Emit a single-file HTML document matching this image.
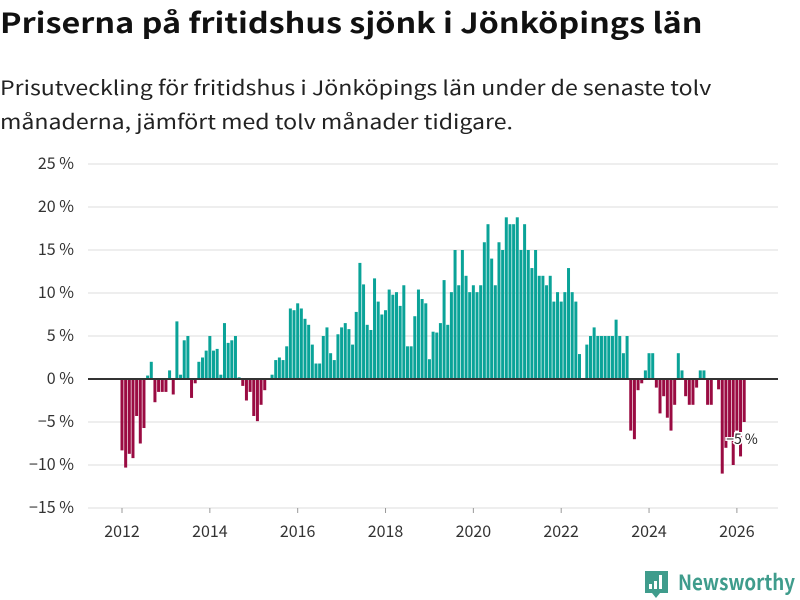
<!DOCTYPE html>
<html><head><meta charset="utf-8">
<style>
body{margin:0;width:800px;height:600px;background:#fff;font-family:"Noto Sans CJK SC","Liberation Sans",sans-serif;overflow:hidden;position:relative}
#title{position:absolute;left:0;top:2px;font-size:28px;font-weight:bold;color:#111;margin:0;white-space:nowrap;transform:scaleX(1.155);transform-origin:0 0}
#sub{position:absolute;left:0;top:70px;font-size:20px;line-height:34px;color:#222;width:700px;white-space:nowrap;transform:scaleX(1.155);transform-origin:0 0}
svg{position:absolute;left:0;top:0;font-family:"Noto Sans CJK SC","Liberation Sans",sans-serif}
</style></head><body>
<h1 id="title">Priserna på fritidshus sjönk i Jönköpings län</h1>
<div id="sub">Prisutveckling för fritidshus i Jönköpings län under de senaste tolv<br>månaderna, jämfört med tolv månader tidigare.</div>
<svg id="chart" width="800" height="600"></svg>
<script>
const yTicks=[25,20,15,10,5,0,-5,-10,-15];
const yearLabels=[2012,2014,2016,2018,2020,2022,2024,2026];
const startYear=2012;
const values=[
-8.3,-10.3,-8.7,-9.2,-4.3,-7.5,-5.7,0.4,2,-2.7,-1.5,-1.5,
-1.5,1,-1.8,6.7,0.5,4.5,5,-2.2,-0.5,2,2.5,3.3,
5,3.3,3.5,0.5,6.5,4.2,4.5,5,0.2,-0.8,-2.5,-1.5,
-4.3,-4.9,-3,-1.3,0,0.5,2.2,2.5,2.2,3.8,8.2,8,
8.8,8.2,7,6.3,4,1.8,1.8,5,6,3,2.2,5.2,
6,6.5,5.8,4,7.8,13.5,11,6.3,5.7,11.7,9,7.5,
8,10.4,9.8,10.1,8.5,10.9,3.8,3.8,7.3,10.4,9.3,8.8,
2.3,5.5,5.4,6.5,11.5,6.3,10.1,15,10.9,15,12,10.1,
10.9,10.1,10.9,15.9,18,14,10.9,15.9,15,18.8,18,18,
18.8,15,18,15,12.9,15,12,12,10.9,12,9,10.1,
9,10.1,12.9,10.1,9,2.9,0,4,5,6,5,5,
5,5,5,6.9,5,3,5,-6,-7,-1.3,-0.5,1,
3,3,-1,-4,-2,-4.5,-6,-3,3,1,-2,-3,
-3,-1,1,1,-3,-3,0,-1.2,-11,-8,-7,-10,
-6,-9,-5];
const lastLabel="−5 %";
const svg=document.getElementById('chart');
const NS='http://www.w3.org/2000/svg';
const y0=379,pxPer=8.6,x0=122,pxMonth=3.66;
const yS=v=>y0-v*pxPer;
const xS=i=>x0+i*pxMonth;
function mk(t,a){const e=document.createElementNS(NS,t);for(const k in a)e.setAttribute(k,a[k]);svg.appendChild(e);return e;}
yTicks.forEach(t=>{
  const l=mk('line',{x1:88,x2:778,y1:yS(t),y2:yS(t),stroke:'#dcdcdc','stroke-width':1});
  
  
  const tx=mk('text',{x:74,y:yS(t)+5,'text-anchor':'end','font-size':16,fill:'#333'});
  tx.textContent=(t<0?'−'+(-t):t)+' %';
  
  
});
yearLabels.forEach(yr=>{
  const x=xS((yr-startYear)*12);
  const tk=mk('line',{x1:x,x2:x,y1:yS(-15),y2:yS(-15)+5,stroke:'#999'});
  
  
  const tx=mk('text',{x:x,y:537,'text-anchor':'middle','font-size':16,fill:'#333'});
  tx.textContent=yr;
  
  
});
values.forEach((v,i)=>{
  const y=v>=0?yS(v):y0;
  const r=mk('rect',{x:xS(i)-1.5,y:y,width:3,height:Math.abs(v)*pxPer,fill:v>=0?'#0aa398':'#9a0b42'});
  
  
});
const zl=mk('line',{x1:88,x2:778,y1:y0,y2:y0,stroke:'#333','stroke-width':2});


const li=values.length-1;
const lb=mk('text',{x:xS(li)-18,y:yS(values[li])+22,'font-size':14,fill:'#222',stroke:'#fff','stroke-width':3,'paint-order':'stroke'});
lb.textContent=lastLabel;


const g=mk('g',{});


g.innerHTML='<path d="M645 571 h23 v22 h-8 l-4 5 l-4 -5 h-7z" fill="#3f9c8c"/><rect x="649" y="584" width="3" height="5" fill="#fff"/><rect x="654" y="581" width="3" height="8" fill="#fff"/><rect x="659" y="575" width="3" height="14" fill="#fff"/><text x="678" y="590" font-size="21" font-weight="bold" fill="#3f9c8c" textLength="117" lengthAdjust="spacingAndGlyphs">Newsworthy</text>';
</script>
</body></html>
